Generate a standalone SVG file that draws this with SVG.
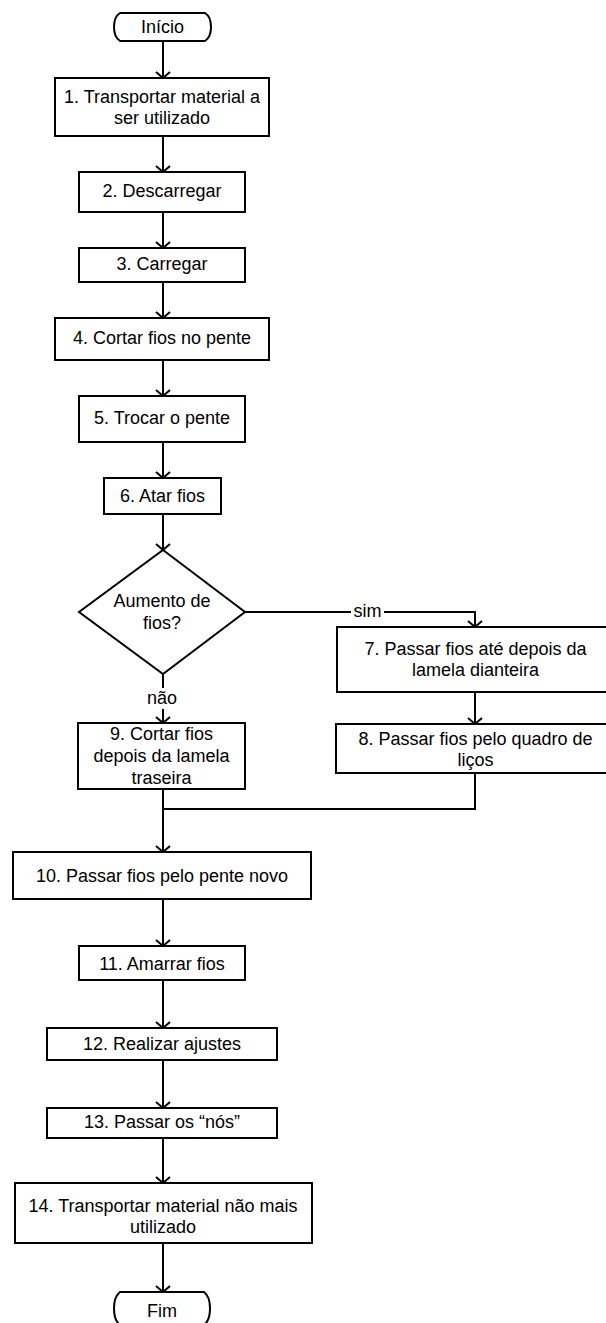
<svg xmlns="http://www.w3.org/2000/svg" width="606" height="1323" viewBox="0 0 606 1323">
  <style>
    .box { fill: #ffffff; stroke: #000000; stroke-width: 2; }
    .lbl { font-family: "Liberation Sans", Arial, sans-serif; font-size: 18px; fill: #000000; text-anchor: middle; }
    .edge { fill: none; stroke: #000000; stroke-width: 2; }
  </style>
  <defs>
    <marker id="arrow" markerUnits="userSpaceOnUse" markerWidth="16" markerHeight="18" viewBox="-8 -9 16 18" refX="0" refY="0" orient="auto">
      <path d="M-6,-7 L0,0 L-6,7" fill="none" stroke="#000000" stroke-width="2"/>
    </marker>
  </defs>
  <rect width="606" height="1323" fill="#ffffff"/>

  <!-- connectors -->
  <g id="connectors">
    <path class="edge" d="M163,41 V78" marker-end="url(#arrow)"/>
    <path class="edge" d="M163,136 V172" marker-end="url(#arrow)"/>
    <path class="edge" d="M163,212 V248" marker-end="url(#arrow)"/>
    <path class="edge" d="M163,282 V318" marker-end="url(#arrow)"/>
    <path class="edge" d="M163,360 V396" marker-end="url(#arrow)"/>
    <path class="edge" d="M163,442 V478" marker-end="url(#arrow)"/>
    <path class="edge" d="M163,514 V550" marker-end="url(#arrow)"/>
    <!-- sim branch -->
    <path class="edge" d="M245,612 H351"/>
    <path class="edge" d="M384,612 H475 V627" marker-end="url(#arrow)"/>
    <text class="lbl" x="367.5" y="617">sim</text>
    <path class="edge" d="M475,692 V724" marker-end="url(#arrow)"/>
    <!-- não branch -->
    <path class="edge" d="M163,674 V688"/>
    <path class="edge" d="M163,709 V723" marker-end="url(#arrow)"/>
    <text class="lbl" x="162" y="704">não</text>
    <!-- merge -->
    <path class="edge" d="M475,773 V809 H163"/>
    <path class="edge" d="M163,789 V852" marker-end="url(#arrow)"/>
    <path class="edge" d="M163,899 V946" marker-end="url(#arrow)"/>
    <path class="edge" d="M163,980 V1028" marker-end="url(#arrow)"/>
    <path class="edge" d="M163,1060 V1108" marker-end="url(#arrow)"/>
    <path class="edge" d="M163,1138 V1183" marker-end="url(#arrow)"/>
    <path class="edge" d="M163,1243 V1292" marker-end="url(#arrow)"/>
  </g>

  <g id="inicio">
    <path class="box" d="M120,13 H205 C213,18 213,36 205,41 H120 C112,36 112,18 120,13 Z"/>
    <text class="lbl" x="162.5" y="33">Início</text>
  </g>

  <g id="n1">
    <rect class="box" x="55" y="78" width="214" height="58"/>
    <text class="lbl" x="162" y="103">1. Transportar material a</text>
    <text class="lbl" x="162" y="124">ser utilizado</text>
  </g>

  <g id="n2">
    <rect class="box" x="79" y="172" width="166" height="40"/>
    <text class="lbl" x="162" y="197">2. Descarregar</text>
  </g>

  <g id="n3">
    <rect class="box" x="79" y="248" width="166" height="34"/>
    <text class="lbl" x="162" y="270">3. Carregar</text>
  </g>

  <g id="n4">
    <rect class="box" x="55" y="318" width="214" height="42"/>
    <text class="lbl" x="162" y="344">4. Cortar fios no pente</text>
  </g>

  <g id="n5">
    <rect class="box" x="79" y="396" width="166" height="46"/>
    <text class="lbl" x="162" y="424">5. Trocar o pente</text>
  </g>

  <g id="n6">
    <rect class="box" x="104" y="478" width="117" height="36"/>
    <text class="lbl" x="162.5" y="502">6. Atar fios</text>
  </g>

  <g id="decisao">
    <path class="box" d="M163,550 L245,612 L163,674 L79,612 Z"/>
    <text class="lbl" x="162" y="607">Aumento de</text>
    <text class="lbl" x="162" y="629">fios?</text>
  </g>

  <g id="n7">
    <rect class="box" x="337" y="627" width="277" height="65"/>
    <text class="lbl" x="475.5" y="655">7. Passar fios até depois da</text>
    <text class="lbl" x="475.5" y="676">lamela dianteira</text>
  </g>

  <g id="n8">
    <rect class="box" x="336" y="724" width="279" height="49"/>
    <text class="lbl" x="475.5" y="745">8. Passar fios pelo quadro de</text>
    <text class="lbl" x="475.5" y="766">liços</text>
  </g>

  <g id="n9">
    <rect class="box" x="78" y="723" width="167" height="66"/>
    <text class="lbl" x="161.5" y="740">9. Cortar fios</text>
    <text class="lbl" x="161.5" y="762">depois da lamela</text>
    <text class="lbl" x="161.5" y="784">traseira</text>
  </g>

  <g id="n10">
    <rect class="box" x="13" y="852" width="298" height="47"/>
    <text class="lbl" x="162" y="882">10. Passar fios pelo pente novo</text>
  </g>

  <g id="n11">
    <rect class="box" x="79" y="946" width="166" height="34"/>
    <text class="lbl" x="162" y="970">11. Amarrar fios</text>
  </g>

  <g id="n12">
    <rect class="box" x="47" y="1028" width="230" height="32"/>
    <text class="lbl" x="162" y="1050">12. Realizar ajustes</text>
  </g>

  <g id="n13">
    <rect class="box" x="47" y="1108" width="230" height="30"/>
    <text class="lbl" x="162" y="1128">13. Passar os “nós”</text>
  </g>

  <g id="n14">
    <rect class="box" x="15" y="1183" width="297" height="60"/>
    <text class="lbl" x="163" y="1212">14. Transportar material não mais</text>
    <text class="lbl" x="163" y="1233">utilizado</text>
  </g>

  <g id="fim">
    <path class="box" d="M120,1292 H204 C212,1298 212,1319 204,1325 H120 C112,1319 112,1298 120,1292 Z"/>
    <text class="lbl" x="162" y="1317">Fim</text>
  </g>
</svg>
